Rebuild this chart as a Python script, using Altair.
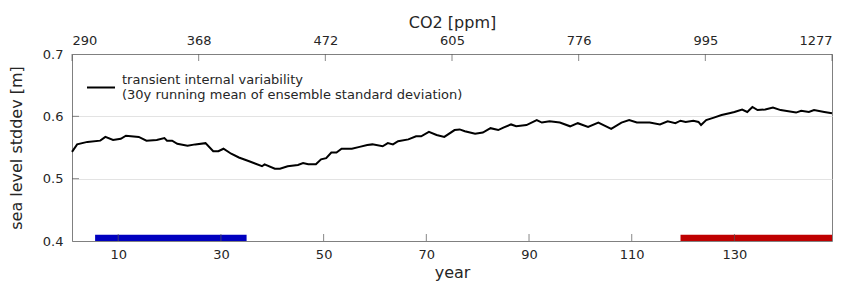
import altair as alt
import pandas as pd

# ---- data ----
years = [1, 2, 4, 6.5, 7.5, 9, 10.5, 11.5, 14, 15.5, 17.5, 19, 19.5, 20.5, 21.5, 23.5, 25, 27,
         28.5, 29.5, 30.5, 32, 33.5, 35.5, 38, 38.5, 40.5, 41.5, 43, 45, 46, 47, 48.5, 49.5,
         50.5, 51.5, 52.5, 53.5, 55.5, 57, 58.5, 59.5, 61.5, 62.5, 63.5, 64.5, 66.5, 68, 69,
         70.5, 72, 73.5, 75.5, 76.5, 77.5, 79.5, 81, 82.5, 84, 85, 86.5, 87.5, 89.5, 91.5,
         92.5, 94, 96, 98, 99.5, 101.5, 103.5, 106, 108, 109.5, 111, 113.5, 115.5, 117,
         118.5, 119.5, 120.5, 122, 123, 123.5, 124.5, 126, 127.5, 129, 130, 131.5, 132.5,
         133.5, 134.5, 136, 137.5, 139, 142, 143, 144.5, 145.5, 147.5, 149]
stddev = [0.543, 0.555, 0.559, 0.561, 0.567, 0.562, 0.564, 0.569, 0.567, 0.561, 0.562, 0.565,
          0.561, 0.561, 0.556, 0.553, 0.555, 0.557, 0.544, 0.544, 0.548, 0.540, 0.534, 0.528,
          0.520, 0.523, 0.516, 0.516, 0.520, 0.522, 0.525, 0.523, 0.523, 0.531, 0.533, 0.542,
          0.542, 0.548, 0.548, 0.551, 0.554, 0.555, 0.552, 0.557, 0.555, 0.560, 0.563, 0.568,
          0.568, 0.575, 0.570, 0.567, 0.578, 0.579, 0.576, 0.572, 0.574, 0.581, 0.578, 0.582,
          0.587, 0.584, 0.586, 0.594, 0.590, 0.592, 0.590, 0.584, 0.589, 0.583, 0.590, 0.580,
          0.590, 0.594, 0.590, 0.590, 0.587, 0.592, 0.589, 0.593, 0.591, 0.593, 0.591, 0.586,
          0.594, 0.598, 0.602, 0.605, 0.607, 0.611, 0.607, 0.615, 0.610, 0.611, 0.614, 0.610,
          0.606, 0.609, 0.607, 0.610, 0.607, 0.605]

period_start = [5.5, 119.5]
period_end = [35, 149]
period_color = ["#0000bf", "#bf0000"]

x_ticks = [10, 30, 50, 70, 90, 110, 130]
y_ticks = [0.4, 0.5, 0.6, 0.7]
co2_labels = ["290", "368", "472", "605", "776", "995", "1277"]

legend_lines = ["transient internal variability",
                "(30y running mean of ensemble standard deviation)"]

FONT = "DejaVu Sans"
TXT = "#262626"
AX = "#808080"

line_df = pd.DataFrame({"year": years, "sd": stddev})
per_df = pd.DataFrame({"s": period_start, "e": period_end, "c": period_color,
                       "y0": [0.4, 0.4], "y1": [0.41, 0.41]})
xt_df = pd.DataFrame({"year": x_ticks})
yt_df = pd.DataFrame({"v": y_ticks[1:3]})
co2_df = pd.DataFrame({"idx": list(range(len(co2_labels)))})

xscale = alt.Scale(domain=[1, 149], nice=False, zero=False)
yscale = alt.Scale(domain=[0.4, 0.7], nice=False, zero=False)

line = alt.Chart(line_df).mark_line(color="black", strokeWidth=2).encode(
    x=alt.X("year:Q", scale=xscale,
            axis=alt.Axis(values=x_ticks, title="year", ticks=False, grid=False,
                          labelPadding=7, titlePadding=3, domainColor=AX)),
    y=alt.Y("sd:Q", scale=yscale,
            axis=alt.Axis(values=y_ticks, format=".1f", title="sea level stddev [m]",
                          ticks=False, grid=True, gridColor="#e3e3e3",
                          labelPadding=9, titlePadding=18, domainColor=AX)),
)

bars = alt.Chart(per_df).mark_rect().encode(
    x=alt.X("s:Q", scale=xscale), x2="e:Q",
    y=alt.Y("y0:Q", scale=yscale), y2="y1:Q",
    color=alt.Color("c:N", scale=None),
)

xt = alt.Chart(xt_df).mark_tick(orient="vertical", size=7, thickness=1, yOffset=-3.5,
                                color="#555555").encode(
    x=alt.X("year:Q", scale=xscale), y=alt.datum(0.4))

yt = alt.Chart(yt_df).mark_tick(orient="horizontal", size=7, thickness=1, xOffset=3.5,
                                color="#555555").encode(
    y=alt.Y("v:Q", scale=yscale), x=alt.datum(1))

leg_rule = alt.Chart(pd.DataFrame({"a": [0]})).mark_rule(color="black", strokeWidth=2).encode(
    x=alt.value(15), x2=alt.value(43), y=alt.value(33.5))
leg_t1 = alt.Chart(pd.DataFrame({"t": [legend_lines[0]]})).mark_text(
    align="left", baseline="alphabetic", font=FONT, fontSize=13, color=TXT).encode(
    text="t:N", x=alt.value(50), y=alt.value(29.5))
leg_t2 = alt.Chart(pd.DataFrame({"t": [legend_lines[1]]})).mark_text(
    align="left", baseline="alphabetic", font=FONT, fontSize=13, color=TXT).encode(
    text="t:N", x=alt.value(50), y=alt.value(45))

inner = alt.layer(line, bars, xt, yt, leg_rule, leg_t1, leg_t2)

top = alt.Chart(co2_df).mark_tick(orient="vertical", size=7, thickness=1, yOffset=3.5,
                                  color="#555555").encode(
    x=alt.X("idx:Q", scale=alt.Scale(domain=[0, 6], nice=False, zero=False),
            axis=alt.Axis(orient="top", values=list(range(7)), title="CO2 [ppm]",
                          labelExpr="['" + "','".join(co2_labels) + "'][datum.value]",
                          ticks=False, grid=False, labelPadding=7, titlePadding=4,
                          domainColor=AX)),
    y=alt.datum(0.7),
)

chart = alt.layer(inner, top).resolve_scale(x="independent").properties(
    width=760, height=187,
    autosize=alt.AutoSizeParams(type="none"),
    padding={"left": 64, "top": 46, "right": 11, "bottom": 44},
    background="white",
).configure_view(stroke=AX, strokeWidth=1).configure_axis(
    labelFont=FONT, titleFont=FONT, labelFontSize=13, titleFontSize=16,
    labelColor=TXT, titleColor=TXT, titleFontWeight="normal",
)

chart.save("out.html", embed_options={"renderer": "svg", "actions": False})
